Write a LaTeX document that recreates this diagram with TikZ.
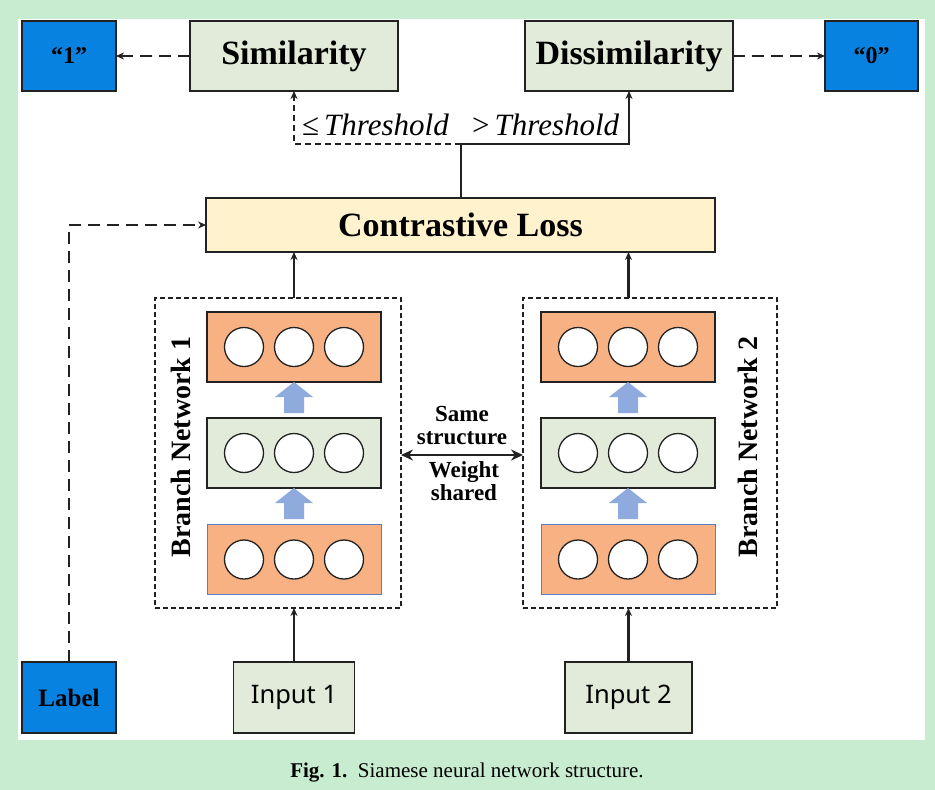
\documentclass[tikz,border=0pt]{standalone}
\usepackage{fontspec}
\setmainfont{Liberation Serif}
\newfontfamily\sansf{Noto Sans}
\usetikzlibrary{arrows.meta,calc}
\definecolor{bggreen}{HTML}{C8ECD0}
\definecolor{boxblue}{HTML}{0782E0}
\definecolor{lgreen}{HTML}{E2EBD9}
\definecolor{lorange}{HTML}{F8B183}
\definecolor{lossfill}{HTML}{FFF2CC}
\definecolor{arrowblue}{HTML}{8FAADC}
\definecolor{edge}{HTML}{222222}
\definecolor{thinblue}{HTML}{5A7FC0}
\tikzset{
  every node/.style={inner sep=0pt, outer sep=0pt},
  mainbox/.style={draw=edge, line width=1.8pt, minimum height=70pt, font=\fontsize{34}{36}\selectfont\bfseries},
  bluebox/.style={mainbox, fill=boxblue, minimum width=94pt, font=\fontsize{24}{26}\selectfont\bfseries},
  greenbox/.style={mainbox, fill=lgreen, minimum width=208pt},
  inbox/.style={mainbox, fill=lgreen, minimum height=71pt, font=\sansf\fontsize{25.5}{27}\selectfont},
  branchbox/.style={draw=edge, line width=1.3pt, dash pattern=on 5pt off 3pt, minimum height=310pt},
  layerbox/.style={draw=edge, line width=1.5pt, minimum width=174pt, minimum height=70pt},
  neuron/.style={circle, draw=edge, line width=1.3pt, fill=white, minimum size=39pt},
  conn/.style={draw=edge, line width=2.2pt},
  arr/.style={conn, -{Stealth[length=8pt,width=7pt]}},
  dasharr/.style={arr, dash pattern=on 12pt off 7pt},
  thrtext/.style={font=\fontsize{31}{33}\selectfont},
  brtext/.style={rotate=90, font=\fontsize{28}{30}\selectfont\bfseries},
  sharetext/.style={font=\fontsize{23}{23}\selectfont\bfseries, align=center}
}
\begin{document}
\begin{tikzpicture}[x=1pt,y=-1pt]
\fill[bggreen] (0,0) rectangle (935,790);
\useasboundingbox (0,0) rectangle (935,790);
\fill[white] (18,19) rectangle (925,740);

% top row
\node[bluebox] (one) at (69,56) {“1”};
\node[greenbox] (sim) at (294,56) {Similarity};
\node[greenbox] (dis) at (629,56) {Dissimilarity};
\node[bluebox, minimum width=93pt] (zero) at (871.5,56) {“0”};

% loss
\node[mainbox, fill=lossfill, minimum width=509pt, minimum height=54pt, font=\fontsize{34}{36}\selectfont\bfseries] (loss) at (460.5,225) {Contrastive Loss};

% bottom row
\node[bluebox, minimum height=71pt, font=\fontsize{25}{27}\selectfont\bfseries] (lab) at (69,697.5) {Label};
\node[inbox, minimum width=121pt] (in1) at (294,697.5) {Input 1};
\node[inbox, minimum width=127pt] (in2) at (628.5,697.5) {Input 2};

% branch boxes
\node[branchbox, minimum width=246pt] (br1) at (278,453) {};
\node[branchbox, minimum width=254pt] (br2) at (650,453) {};

% layers
\foreach \b/\x in {1/294,2/628}{
  \node[layerbox, fill=lorange] (l\b a) at (\x,347) {};
  \node[layerbox, fill=lgreen] (l\b b) at (\x,453) {};
  \node[layerbox, fill=lorange, draw=thinblue, line width=1pt] (l\b c) at (\x,559.5) {};
  \foreach \l in {a,b,c}{
    \foreach \dx in {-50,0,50}{
      \node[neuron] at ($(l\b\l.center)+(\dx,0)$) {};
    }
  }
  \foreach \yt in {382,488}{
    \fill[arrowblue] (\x-10,\yt+31) -- (\x-10,\yt+15) -- (\x-19,\yt+15) -- (\x,\yt) -- (\x+19,\yt+15) -- (\x+10,\yt+15) -- (\x+10,\yt+31) -- cycle;
  }
}

% branch labels
\node[brtext] (bn1) at (181,447) {Branch Network 1};
\node[brtext] (bn2) at (748,447) {Branch Network 2};

% shared arrow
\draw[conn, {Stealth[length=12pt,width=11pt]}-{Stealth[length=12pt,width=11pt]}, line width=2.8pt] (br1.east |- 0,455) -- (br2.west |- 0,455);
\node[sharetext] (same) at (462,426) {Same\\structure};
\node[sharetext] (wgt) at (464,481) {Weight\\shared};

% connectors
\draw[arr] (in1.north) -- (br1.south -| in1.north);
\draw[arr] (in2.north) -- (br2.south -| in2.north);
\draw[arr] (br1.north -| in1.north) -- (loss.south -| in1.north);
\draw[arr] (br2.north -| in2.north) -- (loss.south -| in2.north);
\draw[dasharr] (lab.north) |- (loss.west);

\coordinate (split) at (461,144);
\draw[conn] (loss.north -| split) -- (split);
\draw[arr, dash pattern=on 6pt off 4pt] (split) -| (sim.south);
\draw[arr] (split) -| (dis.south);
\draw[dasharr] (sim.west) -- (one.east);
\draw[dasharr] (dis.east) -- (zero.west);

\node[thrtext, anchor=west] (t1) at (302,125) {≤\,\textit{Threshold}};
\node[thrtext, anchor=west] (t2) at (472,125) {>\,\textit{Threshold}};

% caption
\node[font=\fontsize{21}{23}\selectfont] (cap) at (467,773) {\textbf{Fig. 1.}\ \ Siamese neural network structure.};
\end{tikzpicture}
\end{document}
